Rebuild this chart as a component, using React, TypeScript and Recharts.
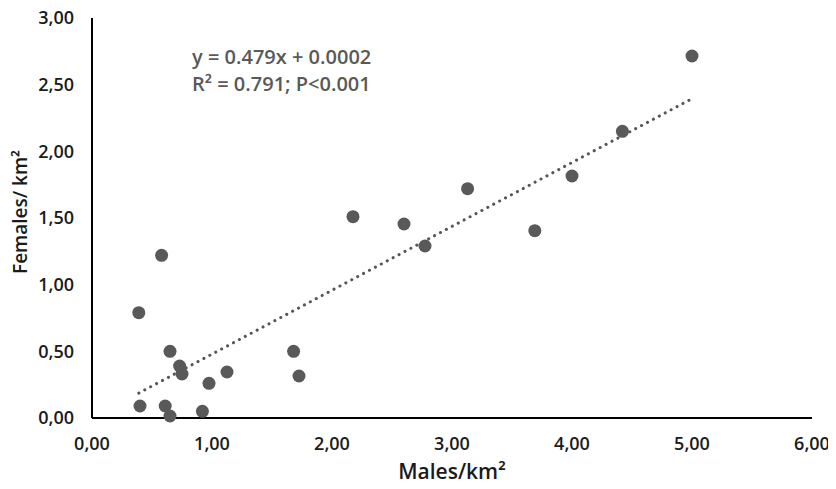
import {
  ScatterChart,
  Scatter,
  XAxis,
  YAxis,
  ReferenceLine,
  Label,
} from 'recharts';

const malesPerKm2 = [0.39, 0.4, 0.58, 0.65, 0.61, 0.65, 0.73, 0.75, 0.92, 0.975, 1.125, 1.68, 1.725, 2.175, 2.6, 2.775, 3.13, 3.69, 4.0, 4.42, 5.0];
const femalesPerKm2 = [0.79, 0.09, 1.22, 0.5, 0.09, 0.015, 0.39, 0.33, 0.05, 0.26, 0.345, 0.5, 0.315, 1.51, 1.455, 1.29, 1.72, 1.405, 1.815, 2.15, 2.715];
const xTicks = [0, 1, 2, 3, 4, 5, 6];
const yTicks = [0, 0.5, 1, 1.5, 2, 2.5, 3];

// regression reported in the figure
const slope = 0.479;
const intercept = 0.0002;

const points = malesPerKm2.map((x, i) => ({ x, y: femalesPerKm2[i] }));
const xMin = Math.min(...malesPerKm2);
const xMax = Math.max(...malesPerKm2);

const fmt = (v: number) => v.toFixed(2).replace('.', ',');
const font = '"Open Sans", sans-serif';
const tickStyle = { fontSize: 18, fontWeight: 600, fill: '#1a1a1a', fontFamily: font };

const Dot = (props: any) => <circle cx={props.cx} cy={props.cy} r={6.5} fill="#595959" />;

export default function App() {
  // pull the chart up over the body margin so the top tick label isn't clipped
  return (
    <div style={{ position: 'relative', width: 828, height: 489, marginTop: -8 }}>
      <ScatterChart width={828} height={489} margin={{ top: 18, right: 24, left: 0, bottom: 0 }}>
        <XAxis
          type="number"
          dataKey="x"
          domain={[0, 6]}
          ticks={xTicks}
          tickFormatter={fmt}
          tickLine={false}
          tick={tickStyle}
          tickMargin={13}
          axisLine={{ stroke: '#000', strokeWidth: 2 }}
          height={71}
        >
          <Label
            value="Males/km²"
            position="insideBottom"
            offset={10}
            style={{ fontSize: 21, fontWeight: 600, fill: '#1a1a1a', fontFamily: font }}
          />
        </XAxis>
        <YAxis
          type="number"
          dataKey="y"
          domain={[0, 3]}
          ticks={yTicks}
          tickFormatter={fmt}
          tickLine={false}
          tick={tickStyle}
          tickMargin={12}
          axisLine={{ stroke: '#000', strokeWidth: 2 }}
          width={84}
        >
          <Label
            value="Females/ km²"
            angle={-90}
            position="insideLeft"
            offset={12}
            dy={-6}
            style={{ textAnchor: 'middle', fontSize: 19, fontWeight: 600, fill: '#1a1a1a', fontFamily: font }}
          />
        </YAxis>
        <ReferenceLine
          segment={[
            { x: xMin, y: slope * xMin + intercept },
            { x: xMax, y: slope * xMax + intercept },
          ]}
          stroke="#555"
          strokeWidth={3}
          strokeDasharray="0.1 6.6"
          strokeLinecap="round"
        />
        <Scatter data={points} fill="#595959" isAnimationActive={false} shape={Dot} />
      </ScatterChart>
      <div
        style={{
          position: 'absolute',
          left: 184,
          top: 43,
          fontFamily: font,
          fontWeight: 600,
          fontSize: 20,
          lineHeight: '27px',
          color: '#595959',
          whiteSpace: 'nowrap',
        }}
      >
        <div>y = 0.479x + 0.0002</div>
        <div>R² = 0.791; P&lt;0.001</div>
      </div>
    </div>
  );
}
